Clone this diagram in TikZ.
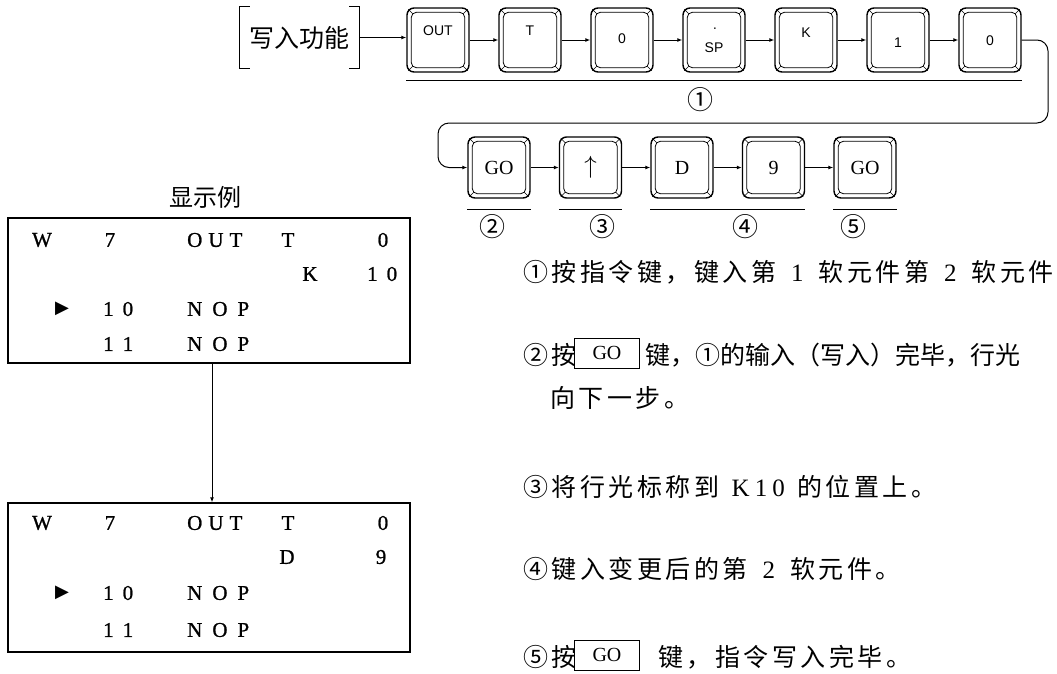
\documentclass[tikz,border=0pt]{standalone}
\usepackage{fontspec}
\setmainfont{Liberation Serif}
\setsansfont{Liberation Sans}
\newfontfamily\cjk{Noto Sans CJK SC}
\newfontfamily\cjkls[LetterSpace=14]{Noto Sans CJK SC}
\newfontfamily\dejavu{DejaVu Sans}
\newfontfamily\dispfont[FakeBold=1]{Liberation Serif}
\usetikzlibrary{arrows.meta,positioning}
\begin{document}
\begin{tikzpicture}[x=1pt,y=-1pt,
 keyA/.style={draw,line width=1.4pt,rounded corners=7pt,minimum width=62pt,minimum height=64pt,inner sep=0pt},
 keyB/.style={keyA,minimum height=61pt,font=\fontsize{20}{20}\selectfont},
 klab/.style={inner sep=0pt,font=\sffamily\fontsize{14}{14}\selectfont},
 arr/.style={line width=1pt,-{Latex[length=5pt,width=4pt]}},
 uline/.style={line width=1.3pt},
 circ/.style={inner sep=0pt,font=\cjk\fontsize{26}{26}\selectfont},
 dbox/.style={draw,line width=1.3pt,minimum width=402pt,inner sep=0pt},
 dtxt/.style={inner sep=0pt,font=\dispfont\fontsize{21}{21}\selectfont},
 dtxtw/.style={dtxt,anchor=west},
 tri/.style={inner sep=0pt,font=\dejavu\fontsize{18}{18}\selectfont},
 rtxt/.style={anchor=west,inner sep=0pt,font=\cjkls\fontsize{25}{25}\selectfont},
 ibox/.style={draw,line width=0.9pt,minimum width=65pt,minimum height=30pt,inner sep=0pt,anchor=west,font=\fontsize{20}{20}\selectfont}
]
\useasboundingbox (0,0) rectangle (1057,673);

% bracket "write function"
\node[inner sep=0pt,minimum width=119pt,minimum height=61pt,font=\cjk\fontsize{25}{25}\selectfont] (wf) at (299.5,37.5) {写入功能};
\draw[line width=1.2pt] ([xshift=10pt]wf.north west) -- (wf.north west) -- (wf.south west) -- ([xshift=10pt]wf.south west);
\draw[line width=1.2pt] ([xshift=-10pt]wf.north east) -- (wf.north east) -- (wf.south east) -- ([xshift=-10pt]wf.south east);

% top row keys
\node[keyA] (k1) at (438,40) {};
\node[keyA] (k2) at (530,40) {};
\node[keyA] (k3) at (622,40) {};
\node[keyA] (k4) at (714,40) {};
\node[keyA] (k5) at (806,40) {};
\node[keyA] (k6) at (898,40) {};
\node[keyA] (k7) at (990,40) {};
\node[klab] (k1t) at (438,31) {OUT};
\node[klab] (k2t) at (530,31) {T};
\node[klab] (k3t) at (622,39) {0};
\node[klab] (k4d) at (715,30) {·};
\node[klab] (k4t) at (714,48) {SP};
\node[klab] (k5t) at (806,33) {K};
\node[klab] (k6t) at (898,43) {1};
\node[klab] (k7t) at (990,41) {0};

% second row keys
\node[keyB] (g1) at (499,167.5) {GO};
\node[keyB] (g2) at (590.5,167.5) {\fontsize{28}{28}\selectfont$\uparrow$};
\node[keyB] (g3) at (682,167.5) {D};
\node[keyB] (g4) at (773.5,167.5) {9};
\node[keyB] (g5) at (865,167.5) {GO};

% inner borders and corner bevels
\foreach \k in {k1,k2,k3,k4,k5,k6,k7,g1,g2,g3,g4,g5}{
  \draw[line width=0.8pt,rounded corners=5pt] ([shift={(5,5)}]\k.north west) rectangle ([shift={(-5,-5)}]\k.south east);
  \draw[line width=0.6pt]
    ([shift={(2,2)}]\k.north west) -- ([shift={(6.3,6.3)}]\k.north west)
    ([shift={(-2,2)}]\k.north east) -- ([shift={(-6.3,6.3)}]\k.north east)
    ([shift={(2,-2)}]\k.south west) -- ([shift={(6.3,-6.3)}]\k.south west)
    ([shift={(-2,-2)}]\k.south east) -- ([shift={(-6.3,-6.3)}]\k.south east);
}

% arrows top row
\draw[arr] (wf.east) -- (wf.east -| k1.west);
\draw[arr] (k1) -- (k2);
\draw[arr] (k2) -- (k3);
\draw[arr] (k3) -- (k4);
\draw[arr] (k4) -- (k5);
\draw[arr] (k5) -- (k6);
\draw[arr] (k6) -- (k7);

% long connector
\coordinate (c1) at (1048,40);
\coordinate (c2) at (1048,123);
\coordinate (c3) at (438,123);
\coordinate (c4) at (438,167.5);
\draw[arr,rounded corners=11pt] (k7.east) -- (c1) -- (c2) -- (c3) -- (c4) -- (g1.west);

% arrows second row
\draw[arr] (g1) -- (g2);
\draw[arr] (g2) -- (g3);
\draw[arr] (g3) -- (g4);
\draw[arr] (g4) -- (g5);

% underlines and step labels
\draw[uline] ([yshift=-8pt]k1.south west) -- ([yshift=-8pt]k7.south east);
\node[circ] (n1) at (700,100) {①};
\draw[uline] ([yshift=-11pt]g1.south west) -- ([yshift=-11pt]g1.south east);
\draw[uline] ([yshift=-11pt]g2.south west) -- ([yshift=-11pt]g2.south east);
\draw[uline] ([yshift=-11pt]g3.south west) -- ([yshift=-11pt]g4.south east);
\draw[uline] ([yshift=-11pt]g5.south west) -- ([yshift=-11pt]g5.south east);
\node[circ] (n2) at (492,227) {②};
\node[circ] (n3) at (602,227) {③};
\node[circ] (n4) at (745,227) {④};
\node[circ] (n5) at (853,227) {⑤};

% display example
\node[inner sep=0pt,font=\cjk\fontsize{24}{24}\selectfont] (title) at (205,197) {显示例};
\node[dbox,minimum height=145pt] (d1) at (209,290.5) {};
\node[dbox,minimum height=149pt] (d2) at (209,577.5) {};
\draw[arr] ([xshift=3pt]d1.south) -- ([xshift=3pt]d2.north);

% box 1 rows
\node[dtxt] (a11) at (42,240) {W};
\node[dtxt] (a12) at (110,240) {7};
\node[dtxtw] (a13) at (187,240) {O\kern6pt U\kern6pt T};
\node[dtxt] (a14) at (288,240) {T};
\node[dtxt] (a15) at (383,240) {0};
\node[dtxt] (a21) at (310,274) {K};
\node[dtxtw] (a22) at (367,274) {1\kern9pt 0};
\node[tri] (a31) at (62,309) {▶};
\node[dtxtw] (a32) at (103,309) {1\kern9pt 0};
\node[dtxtw] (a33) at (187,309) {N\kern10pt O\kern10pt P};
\node[dtxtw] (a41) at (103,344) {1\kern9pt 1};
\node[dtxtw] (a42) at (187,344) {N\kern10pt O\kern10pt P};

% box 2 rows
\node[dtxt] (b11) at (42,523) {W};
\node[dtxt] (b12) at (110,523) {7};
\node[dtxtw] (b13) at (187,523) {O\kern6pt U\kern6pt T};
\node[dtxt] (b14) at (288,523) {T};
\node[dtxt] (b15) at (383,523) {0};
\node[dtxt] (b21) at (287,557) {D};
\node[dtxt] (b22) at (381,557) {9};
\node[tri] (b31) at (62,593) {▶};
\node[dtxtw] (b32) at (103,593) {1\kern9pt 0};
\node[dtxtw] (b33) at (187,593) {N\kern10pt O\kern10pt P};
\node[dtxtw] (b41) at (103,630) {1\kern9pt 1};
\node[dtxtw] (b42) at (187,630) {N\kern10pt O\kern10pt P};

% explanation text
\node[rtxt] (t1) at (523,272) {①按指令键，键入第\hspace{0.6em}{\rmfamily 1}\hspace{0.6em}软元件第\hspace{0.6em}{\rmfamily 2}\hspace{0.6em}软元件};
\node[rtxt] (t2a) at (523,355) {②按};
\node[ibox] (t2b) at (574,353) {GO};
\node[rtxt,font=\cjk\fontsize{25}{25}\selectfont] (t2c) at (645,355) {键，①的输入（写入）完毕，行光};
\node[rtxt] (t2d) at (550,398) {向下一步。};
\node[rtxt] (t3) at (523,487) {③将行光标称到\hspace{0.5em}{\rmfamily K\kern5pt 1\kern5pt 0}\hspace{0.5em}的位置上。};
\node[rtxt] (t4) at (523,569) {④键入变更后的第\hspace{0.6em}{\rmfamily 2}\hspace{0.6em}软元件。};
\node[rtxt] (t5a) at (523,657) {⑤按};
\node[ibox] (t5b) at (574,655) {GO};
\node[rtxt] (t5c) at (658,657) {键，指令写入完毕。};
\end{tikzpicture}
\end{document}
